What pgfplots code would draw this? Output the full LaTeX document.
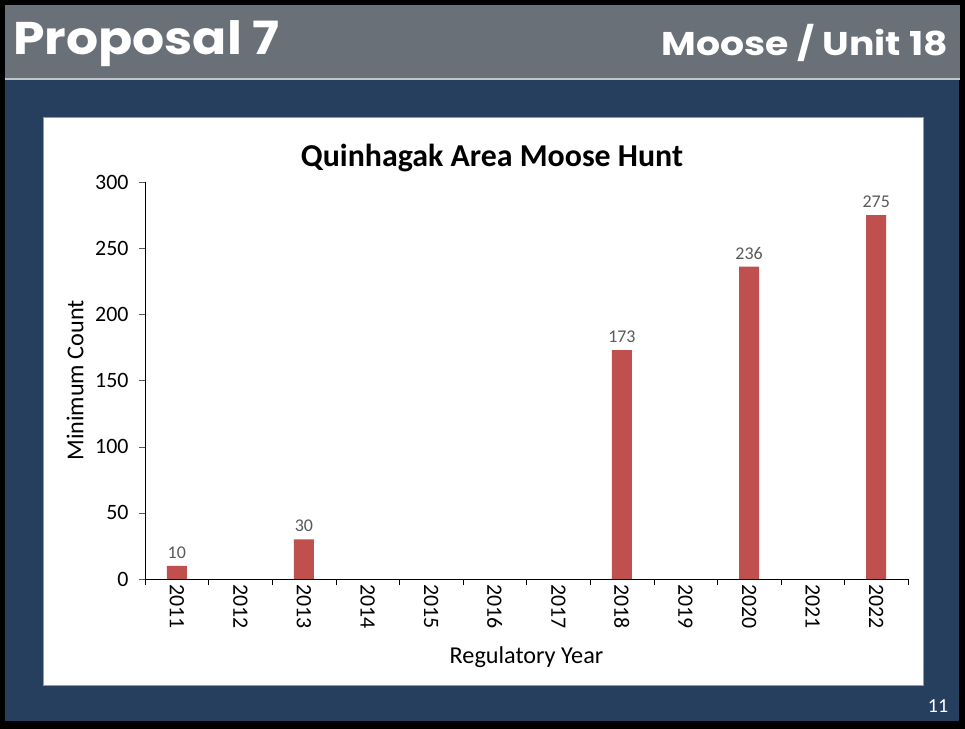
\documentclass[border=0pt]{standalone}
\usepackage{pgfplots}
\pgfplotsset{compat=1.18}
\usepackage{fontspec}
\setmainfont{Carlito}
\newfontfamily\headfont{Poppins}
\definecolor{navy}{HTML}{273F5E}
\definecolor{hdr}{HTML}{6A7077}
\definecolor{barred}{HTML}{C0504D}
\definecolor{lblgray}{HTML}{595959}
\begin{document}
\begin{tikzpicture}[x=1bp,y=1bp]
\fill[black] (0,0) rectangle (965,729);
\fill[hdr] (5,651) rectangle (960,724);
\fill[hdr!40!white] (5,649) rectangle (960,651);
\fill[navy] (5,8) rectangle (959,649);
\filldraw[fill=white, draw=gray!80] (43,44) rectangle (923,612);
\node[anchor=base west, inner sep=0pt, xscale=1.1, text=white, font=\headfont\bfseries\fontsize{46}{50}\selectfont] at (13,674) {Proposal 7};
\node[anchor=base east, inner sep=0pt, xscale=1.15, text=white, font=\headfont\bfseries\fontsize{33}{36}\selectfont] at (948,673) {Moose / Unit 18};
\node[text=white, font=\fontsize{20}{20}\selectfont] at (938,23) {11};
\node[font=\bfseries\fontsize{32}{32}\selectfont] at (492,571) {Quinhagak Area Moose Hunt};
\begin{axis}[
  at={(145bp,150bp)}, anchor=south west,
  scale only axis, width=763bp, height=397bp,
  xmin=-0.5, xmax=11.5, ymin=0, ymax=300,
  ybar, bar width=20bp,
  axis lines*=left,
  axis line style={black},
  tick align=outside,
  xtick={0,...,11},
  xticklabels={2011,2012,2013,2014,2015,2016,2017,2018,2019,2020,2021,2022},
  minor xtick={-0.5,0.5,...,11.5},
  major x tick style={draw=none},
  minor x tick style={draw=black},
  major tick length=6bp, minor tick length=6bp,
  ytick={0,50,...,300},
  major y tick style={draw=gray!70!black},
  tick label style={font=\fontsize{22}{22}\selectfont},
  xticklabel style={rotate=-90, anchor=west},
  xticklabel shift=-4bp,
  yticklabel shift=7bp,
  /pgf/number format/assume math mode=true,
  xlabel={Regulatory Year}, ylabel={Minimum Count},
  label style={font=\fontsize{24.3}{24.3}\selectfont},
  xlabel style={at={(axis description cs:0.5,-0.1965)}, anchor=center},
  ylabel style={at={(axis description cs:-0.0917,0.5)}, anchor=center, rotate=0},
  nodes near coords,
  every node near coord/.append style={font=\fontsize{18}{18}\selectfont, text=lblgray, yshift=4bp},
]
\addplot[fill=barred, draw=none] coordinates {(0,10) (2,30) (7,173) (9,236) (11,275)};
\end{axis}
\end{tikzpicture}
\end{document}
